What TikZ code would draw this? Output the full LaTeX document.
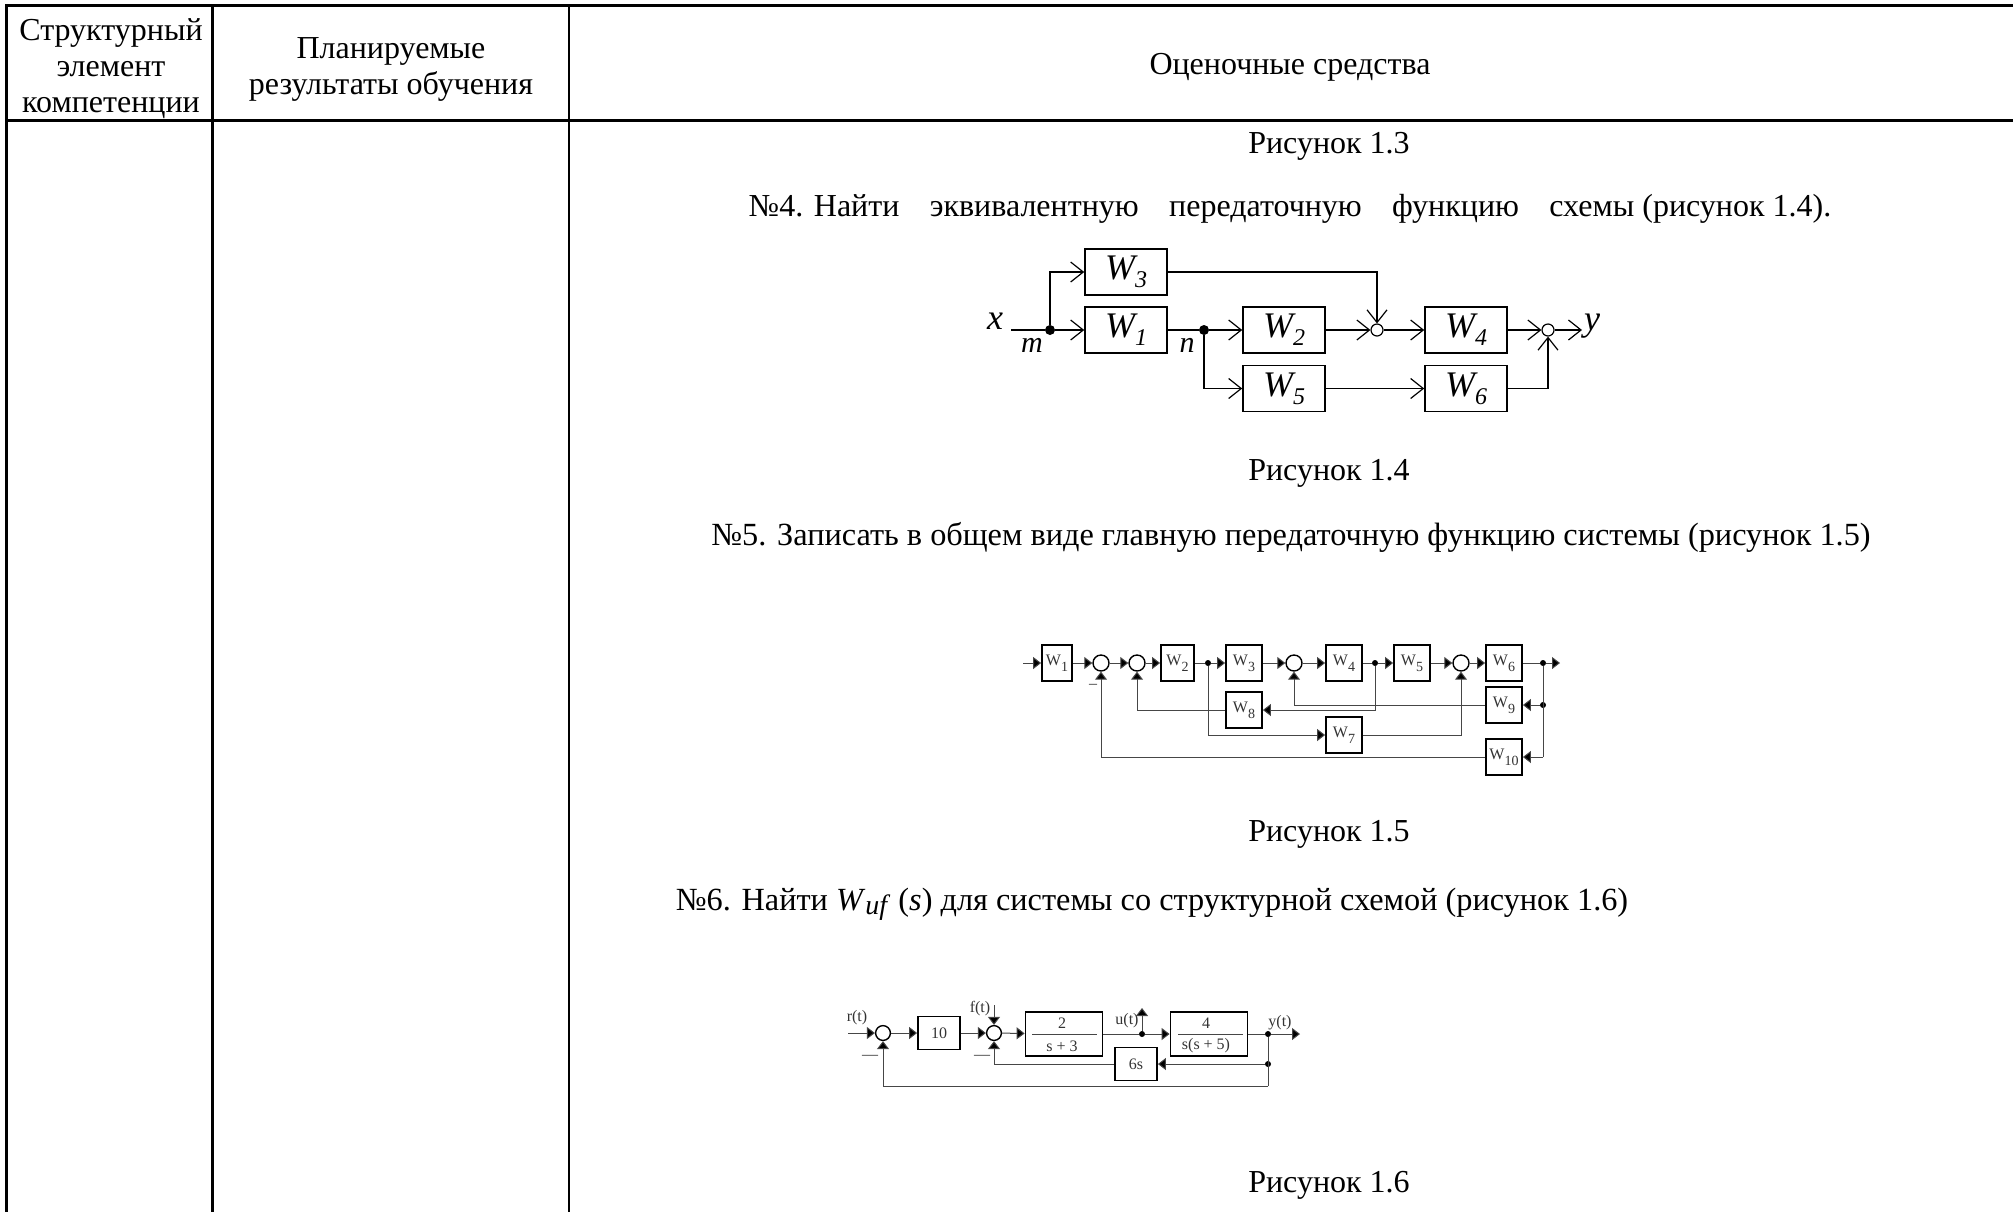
\documentclass[tikz,border=0pt]{standalone}
\usepackage{fontspec}
\setmainfont{Liberation Serif}
\usepackage{tikz}
\usetikzlibrary{arrows.meta, positioning}
\definecolor{wireg}{RGB}{70, 70, 70}
\newcommand{\wsub}[1]{W\raisebox{-3pt}{\fontsize{7}{7}\selectfont #1}}
\newcommand{\wbig}[1]{\textit{W\raisebox{-4pt}{\fontsize{12}{12}\selectfont #1}}}

\begin{document}
\begin{tikzpicture}[
    x=0.5pt, y=-0.5pt,
    every node/.style={font=\fontsize{16}{18}\selectfont},
    cell/.style={align=center, inner sep=0pt},
    gridline/.style={line width=1.5pt},
    % first scheme
    bigbox/.style={draw, line width=0.8pt, minimum width=41pt, minimum height=23pt,
                   inner sep=0pt, font=\fontsize{18}{18}\selectfont},
    bigsum/.style={draw, circle, line width=0.6pt, minimum size=6pt, inner sep=0pt},
    bigdot/.style={circle, fill, minimum size=5pt, inner sep=0pt},
    bigarr/.style={-{Straight Barb[length=6.3pt, width=10pt, line width=0.6pt]}, line width=0.8pt},
    bigtxt/.style={inner sep=0pt, font=\fontsize{18}{18}\selectfont\itshape},
    % second and third scheme
    smallbox/.style={draw, line width=0.9pt, inner sep=0pt, minimum width=18pt, minimum height=18pt,
                     font=\fontsize{8}{9}\selectfont, text=black!80},
    smallsum/.style={draw, circle, line width=0.7pt, minimum size=8pt, inner sep=0pt},
    smalldot/.style={circle, fill, minimum size=3pt, inner sep=0pt},
    wire/.style={draw=wireg, line width=0.5pt},
    smallarr/.style={wire, -{Triangle[length=4pt, width=6pt, fill=black]}},
    smalltxt/.style={inner sep=0pt, font=\fontsize{8}{9}\selectfont, text=black!80},
  ]
    \useasboundingbox (0,0) rectangle (2013,1212);
    % Table grid
    \draw[gridline] (2013,5.5) -- (6.5,5.5) -- (6.5,1212);
    \draw[gridline] (212,5.5) -- (212,1212);
    \draw[line width=1pt] (568.5,5.5) -- (568.5,1212);
    \draw[gridline] (6.5,120.5) -- (2013,120.5);
    % Head of the table
    \node[cell] (hd1) at (111,69) {Структурный\\элемент\\компетенции};
    \node[cell] (hd2) at (391,69) {Планируемые\\результаты обучения};
    \node[cell] (hd3) at (1290,67) {Оценочные средства};
    % Text lines
    \node[cell] (cap3) at (1329,146) {Рисунок 1.3};
    \node[cell] (task4) at (1290,209) {№4. Найти\hspace{.7em} эквивалентную\hspace{.7em} передаточную\hspace{.7em} функцию\hspace{.7em} схемы (рисунок 1.4).};
    \node[cell] (cap4) at (1329,473) {Рисунок 1.4};
    \node[cell, font=\fontsize{16.15}{18}\selectfont] (task5) at (1291,537) {№5. Записать в общем виде главную передаточную функцию системы (рисунок 1.5)};
    \node[cell] (cap5) at (1329,834) {Рисунок 1.5};
    \node[cell, font=\fontsize{16.15}{18}\selectfont] (task6) at (1152,904) {№6. Найти \textit{W}\raisebox{-2pt}{\fontsize{14}{14}\selectfont\textit{uf}} (\textit{s}) для системы со структурной схемой (рисунок 1.6)};
    \node[cell] (cap6) at (1329,1185) {Рисунок 1.6};

    % Scheme 1.4
    \node[bigbox] (w3) at (1126,272) {\wbig{3}};
    \node[bigbox] (w1) at (1126,330) {\wbig{1}};
    \node[bigbox] (w2) at (1284,330) {\wbig{2}};
    \node[bigbox] (w5) at (1284,388.5) {\wbig{5}};
    \node[bigbox] (w4) at (1466,330) {\wbig{4}};
    \node[bigbox] (w6) at (1466,388.5) {\wbig{6}};
    \node[bigsum] (s1) at (1377,330) {};
    \node[bigsum] (s2) at (1548,330) {};
    \node[bigdot] (mj) at (1050,330) {};
    \node[bigdot] (nj) at (1204,330) {};
    \coordinate (xin) at (1011,330);
    \coordinate (yout) at (1582,330);
    \node[bigtxt] (xl) at (995,321) {x};
    \node[bigtxt, font=\fontsize{15}{15}\selectfont\itshape] (ml) at (1032,345) {m};
    \node[bigtxt, font=\fontsize{15}{15}\selectfont\itshape] (nl) at (1187,345) {n};
    \node[bigtxt] (yl) at (1592,326) {y};

    \draw[line width=0.8pt] (xin) -- (mj);
    \draw[bigarr] (mj) -- (w1);
    \draw[bigarr] (mj) |- (w3);
    \draw[line width=0.8pt] (w1) -- (nj);
    \draw[bigarr] (nj) -- (w2);
    \draw[bigarr] (nj) |- (w5);
    \draw[bigarr] (w2) -- (s1);
    \draw[bigarr] (w3) -| (s1);
    \draw[bigarr] (s1) -- (w4);
    \draw[bigarr] (w5) -- (w6);
    \draw[bigarr] (w4) -- (s2);
    \draw[bigarr] (w6) -| (s2);
    \draw[bigarr] (s2) -- (yout);

    % Scheme 1.5
    \node[smallbox, minimum width=15pt] (a1) at (1057,663) {\wsub{1}};
    \node[smallsum] (sa) at (1101,663) {};
    \node[smallsum] (sb) at (1137,663) {};
    \node[smallbox, minimum width=16.5pt] (a2) at (1177.5,663) {\wsub{2}};
    \node[smalldot] (ja) at (1208,663) {};
    \node[smallbox] (a3) at (1244,663) {\wsub{3}};
    \node[smallsum] (sc) at (1294,663) {};
    \node[smallbox] (a4) at (1344,663) {\wsub{4}};
    \node[smalldot] (jb) at (1375,663) {};
    \node[smallbox] (a5) at (1412,663) {\wsub{5}};
    \node[smallsum] (sd) at (1461,663) {};
    \node[smallbox] (a6) at (1504,663) {\wsub{6}};
    \node[smalldot] (jc) at (1543,663) {};
    \node[smallbox] (a8) at (1244,710) {\wsub{8}};
    \node[smallbox] (a9) at (1504,705) {\wsub{9}};
    \node[smalldot] (jd) at (1543,705) {};
    \node[smallbox] (a7) at (1344,735) {\wsub{7}};
    \node[smallbox] (a10) at (1504,757) {\wsub{10}};
    \coordinate (ain) at (1023,663);
    \coordinate (aout) at (1560,663);
    \coordinate (ak) at (1543,757);
    \node[smalltxt] (am) at (1093,686) {--};

    \draw[smallarr] (ain) -- (a1);
    \draw[smallarr] (a1) -- (sa);
    \draw[smallarr] (sa) -- (sb);
    \draw[smallarr] (sb) -- (a2);
    \draw[wire] (a2) -- (ja);
    \draw[smallarr] (ja) -- (a3);
    \draw[smallarr] (a3) -- (sc);
    \draw[smallarr] (sc) -- (a4);
    \draw[wire] (a4) -- (jb);
    \draw[smallarr] (jb) -- (a5);
    \draw[smallarr] (a5) -- (sd);
    \draw[smallarr] (sd) -- (a6);
    \draw[wire] (a6) -- (jc);
    \draw[smallarr] (jc) -- (aout);
    \draw[wire] (jc) -- (ak);
    \draw[smallarr] (jd) -- (a9);
    \draw[smallarr] (ak) -- (a10);
    \draw[smallarr] (a9) -| (sc);
    \draw[smallarr] (jb) |- (a8);
    \draw[smallarr] (a8) -| (sb);
    \draw[smallarr] (ja) |- (a7);
    \draw[smallarr] (a7) -| (sd);
    \draw[smallarr] (a10) -| (sa);

    % Scheme 1.6
    \node[smallsum, minimum size=7.4pt] (q1) at (883,1033) {};
    \node[smallbox, minimum width=21pt, minimum height=16.5pt] (b10) at (939,1033) {10};
    \node[smallsum, minimum size=7.4pt] (q2) at (994,1033) {};
    \node[smallbox, minimum width=38.5pt, minimum height=22pt] (bf1) at (1064,1034) {};
    \node[smalldot] (ju) at (1142,1034) {};
    \node[smallbox, minimum width=38.5pt, minimum height=22pt] (bf2) at (1209,1034) {};
    \node[smalldot] (jy) at (1268,1034) {};
    \node[smalldot] (jf) at (1268,1064) {};
    \node[smallbox, minimum width=21pt, minimum height=16.5pt] (b6s) at (1136,1064) {6s};
    \node[smalltxt] (n2) at (1062,1023) {2};
    \node[smalltxt] (d2) at (1062,1046) {s + 3};
    \node[smalltxt] (n4) at (1206,1023) {4};
    \node[smalltxt] (d4) at (1206,1046) {s(s + 5)};
    \node[smalltxt] (rl) at (857,1018) {r(t)};
    \node[smalltxt] (fl) at (980,1009) {f(t)};
    \node[smalltxt] (ul) at (1127,1021) {u(t)};
    \node[smalltxt] (yy) at (1280,1023) {y(t)};
    \node[smalltxt] (m1) at (870,1057) {---};
    \node[smalltxt] (m2) at (982,1057) {---};
    \coordinate (rin) at (848,1033);
    \coordinate (fin) at (994,1005);
    \coordinate (uup) at (1142,1008);
    \coordinate (yend) at (1300,1034);
    \coordinate (yk) at (1268,1086);

    \draw[wire] (1032,1034) -- (1097,1034);
    \draw[wire] (1178,1034) -- (1243,1034);
    \draw[smallarr] (rin) -- (q1);
    \draw[smallarr] (q1) -- (b10);
    \draw[smallarr] (b10) -- (q2);
    \draw[smallarr] (fin) -- (q2);
    \draw[smallarr] (q2) -- (bf1);
    \draw[wire] (bf1) -- (ju);
    \draw[smallarr] (ju) -- (bf2);
    \draw[smallarr] (ju) -- (uup);
    \draw[wire] (bf2) -- (jy);
    \draw[smallarr] (jy) -- (yend);
    \draw[wire] (jy) -- (yk);
    \draw[smallarr] (jf) -- (b6s);
    \draw[smallarr] (b6s) -| (q2);
    \draw[smallarr] (yk) -| (q1);
  \end{tikzpicture}
\end{document}
